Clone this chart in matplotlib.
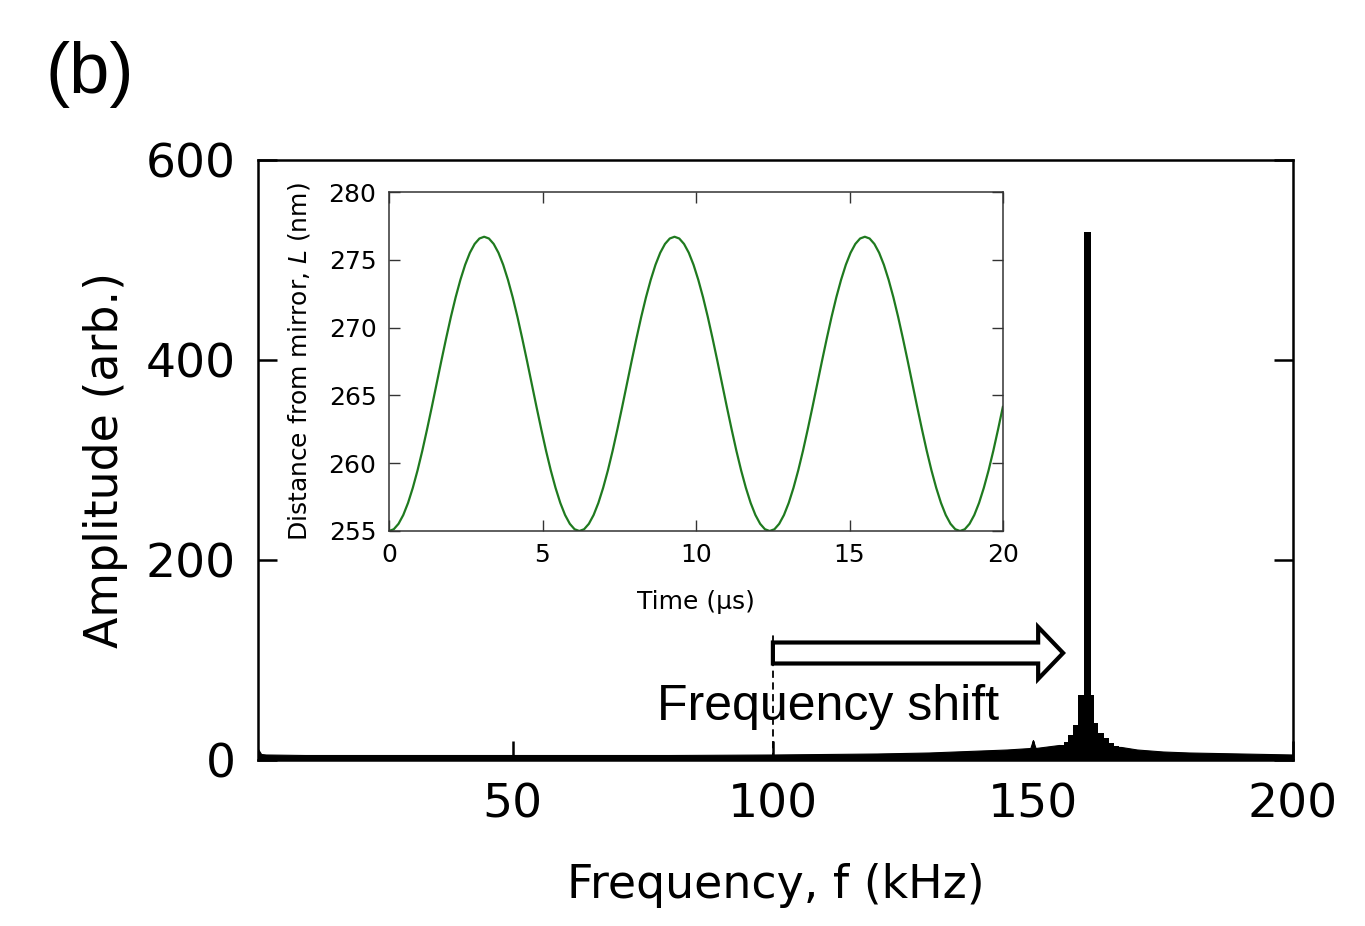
import matplotlib
matplotlib.use("Agg")
import matplotlib.pyplot as plt
import numpy as np
from matplotlib.patches import FancyArrow

# spectrum background (broad, low-level part), kHz / arb.
bg_freq = [1.0, 1.6, 2.5, 10, 40, 80, 100, 120, 130, 140, 145, 149.5, 150.0,
           150.5, 152, 155, 167, 170, 175, 180, 190, 200]
bg_amp = [11, 6, 5.5, 5, 5, 5, 5.5, 6.5, 7.5, 9.5, 10.5, 12, 20,
          12, 13, 15, 13, 10.5, 8.5, 7.5, 6.5, 5.5]

# bins around the resonance peak
peak_edges = [155.0, 155.9, 156.8, 157.7, 158.7, 159.9, 161.1, 161.7,
              162.6, 163.6, 164.6, 165.6, 166.6]
peak_amp = [15, 18, 25, 35, 65, 528, 65, 37, 27, 22, 17, 14]

# inset: distance from mirror vs time, sampled every 0.155 us
time_step = 0.155
dist_nm = [
    255.00, 255.13, 255.53, 256.18, 257.07, 258.18, 259.47, 260.92, 262.50, 264.15,
    265.85, 267.55, 269.20, 270.78, 272.23, 273.52, 274.63, 275.52, 276.17, 276.57,
    276.70, 276.57, 276.17, 275.52, 274.63, 273.52, 272.23, 270.78, 269.20, 267.55,
    265.85, 264.15, 262.50, 260.92, 259.47, 258.18, 257.07, 256.18, 255.53, 255.13,
    255.00, 255.13, 255.53, 256.18, 257.07, 258.18, 259.47, 260.92, 262.50, 264.15,
    265.85, 267.55, 269.20, 270.78, 272.23, 273.52, 274.63, 275.52, 276.17, 276.57,
    276.70, 276.57, 276.17, 275.52, 274.63, 273.52, 272.23, 270.78, 269.20, 267.55,
    265.85, 264.15, 262.50, 260.92, 259.47, 258.18, 257.07, 256.18, 255.53, 255.13,
    255.00, 255.13, 255.53, 256.18, 257.07, 258.18, 259.47, 260.92, 262.50, 264.15,
    265.85, 267.55, 269.20, 270.78, 272.23, 273.52, 274.63, 275.52, 276.17, 276.57,
    276.70, 276.57, 276.17, 275.52, 274.63, 273.52, 272.23, 270.78, 269.20, 267.55,
    265.85, 264.15, 262.50, 260.92, 259.47, 258.18, 257.07, 256.18, 255.53, 255.13,
    255.00, 255.13, 255.53, 256.18, 257.07, 258.18, 259.47, 260.92, 262.50, 264.15,
]
time_us = np.arange(len(dist_nm)) * time_step

FREQ_TICKS = [50, 100, 150, 200]
AMP_TICKS = [0, 200, 400, 600]
TIME_TICKS = [0, 5, 10, 15, 20]
DIST_TICKS = [255, 260, 265, 270, 275, 280]

MAIN_FONT = "DejaVu Sans"
W, H = 1365, 926

fig = plt.figure(figsize=(W / 100, H / 100), dpi=100)
fig.patch.set_facecolor("white")

ax = fig.add_axes([258 / W, 1 - 760 / H, (1293 - 258) / W, 600 / H])
ax.fill_between(bg_freq, 0, bg_amp, color="black", lw=0.8)
ax.stairs(peak_amp, peak_edges, fill=True, color="black")
ax.set_xlim(1, 200)
ax.set_ylim(0, 600)
ax.set_xticks(FREQ_TICKS)
ax.set_yticks(AMP_TICKS)
ax.tick_params(direction="in", length=14, width=1.8, right=True, top=False,
               labelsize=34, pad=16)
for lab in ax.get_xticklabels() + ax.get_yticklabels():
    lab.set_family(MAIN_FONT)
for sp in ax.spines.values():
    sp.set_linewidth(1.8)
ax.set_xlabel("Frequency, f (kHz)", fontsize=33, family=MAIN_FONT, labelpad=26)
ax.set_ylabel("Amplitude (arb.)", fontsize=33, family=MAIN_FONT, labelpad=13)

# frequency shift annotation
ax.vlines(100, 0, 128, colors="black", linestyles=(0, (4, 2.5)), lw=1.3, zorder=4)
ax.add_patch(FancyArrow(100, 107, 55.8, 0, width=21, head_width=52, head_length=4.8,
                        length_includes_head=True, fc="white", ec="black", lw=3,
                        zorder=5))
ax.text(110.6, 40, "Frequency shift", fontsize=36, family="Liberation Sans",
        ha="center", va="baseline", zorder=6)

fig.text(45 / W, 1 - 74 / H, "(b)", fontsize=52, family="Liberation Sans",
         ha="left", va="center")

# inset
ins = fig.add_axes([389 / W, 1 - 531 / H, 614 / W, 339 / H])
ins.set_facecolor("white")
ins.plot(time_us, dist_nm, color="#1f7a1f", lw=1.6)
ins.set_xlim(0, 20)
ins.set_ylim(255, 280)
ins.set_xticks(TIME_TICKS)
ins.set_yticks(DIST_TICKS)
ins.tick_params(direction="in", length=8, width=1, top=True, right=True,
                labelsize=18, pad=9, colors="#333333", labelcolor="black")
for lab in ins.get_xticklabels() + ins.get_yticklabels():
    lab.set_family(MAIN_FONT)
for sp in ins.spines.values():
    sp.set_linewidth(1.1)
    sp.set_color("#333333")
ins.set_xlabel("Time (\u00b5s)", fontsize=18, family=MAIN_FONT, labelpad=16)
ins.set_ylabel("Distance from mirror, $L$ (nm)", fontsize=18, family=MAIN_FONT,
               labelpad=12)

fig.savefig("out.png", dpi=100)
